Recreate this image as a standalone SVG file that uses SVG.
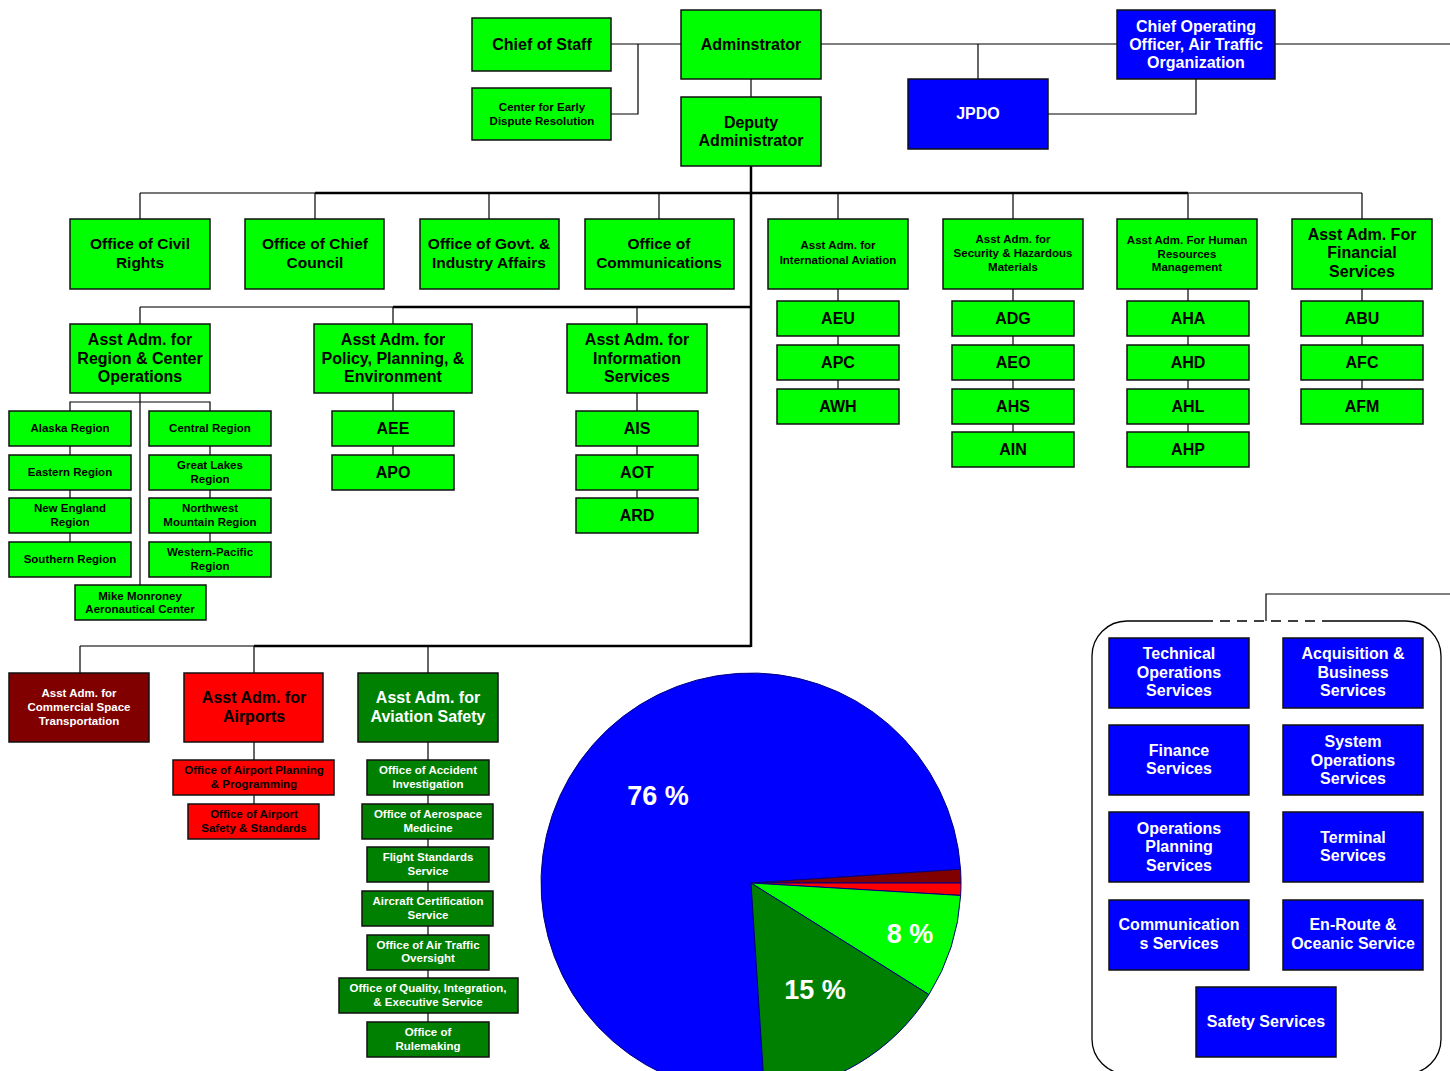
<svg xmlns="http://www.w3.org/2000/svg" width="1450" height="1071" viewBox="0 0 1450 1071">
<style>
.bx{stroke:#111;stroke-width:1.5}
.lg{fill:#00ff00}.dg{fill:#008000}.rd{fill:#ff0000}.mr{fill:#800000}.bl{fill:#0000ff}
text{font-family:"Liberation Sans",Arial,sans-serif;font-weight:bold;text-anchor:middle}
.k{fill:#000}.w{fill:#fff}
.s16{font-size:16px}.s15{font-size:15.5px}.s11{font-size:11.5px}.s27{font-size:27px}
.ln{stroke:#000;stroke-width:1.2;fill:none}
.th{stroke:#000;stroke-width:2.5;fill:none}
.gr{stroke:#777;stroke-width:2;fill:none}
.pie{stroke:#000080;stroke-width:1}
</style>
<rect width="1450" height="1071" fill="#fff"/>
<g id="connectors">
<polyline class="ln" points="611,44 681,44"/>
<polyline class="ln" points="611,114 638,114 638,44"/>
<line class="ln" x1="751" y1="79" x2="751" y2="97"/>
<line class="ln" x1="821" y1="44" x2="1117" y2="44"/>
<line class="ln" x1="1275" y1="44" x2="1450" y2="44"/>
<line class="ln" x1="978" y1="44" x2="978" y2="79"/>
<polyline class="ln" points="1196,79 1196,114 1048,114"/>
<line class="th" x1="751" y1="166" x2="751" y2="193"/>
<line class="gr" x1="140" y1="193" x2="315" y2="193"/>
<line class="th" x1="315" y1="193" x2="1188" y2="193"/>
<line class="gr" x1="1188" y1="193" x2="1362" y2="193"/>
<line class="ln" x1="140" y1="193" x2="140" y2="219"/>
<line class="ln" x1="315" y1="193" x2="315" y2="219"/>
<line class="ln" x1="489" y1="193" x2="489" y2="219"/>
<line class="ln" x1="659" y1="193" x2="659" y2="219"/>
<line class="ln" x1="838" y1="193" x2="838" y2="219"/>
<line class="ln" x1="1013" y1="193" x2="1013" y2="219"/>
<line class="ln" x1="1188" y1="193" x2="1188" y2="219"/>
<line class="ln" x1="1362" y1="193" x2="1362" y2="219"/>
<line class="ln" x1="838" y1="289" x2="838" y2="389"/>
<line class="ln" x1="1013" y1="289" x2="1013" y2="432"/>
<line class="ln" x1="1188" y1="289" x2="1188" y2="432"/>
<line class="ln" x1="1362" y1="289" x2="1362" y2="389"/>
<line class="th" x1="751" y1="193" x2="751" y2="647"/>
<line class="gr" x1="140" y1="307" x2="393" y2="307"/>
<line class="th" x1="393" y1="307" x2="751" y2="307"/>
<line class="ln" x1="140" y1="307" x2="140" y2="324"/>
<line class="ln" x1="393" y1="307" x2="393" y2="455"/>
<line class="ln" x1="637" y1="307" x2="637" y2="498"/>
<line class="ln" x1="140" y1="393" x2="140" y2="585"/>
<polyline class="ln" points="70,411 70,402 210,402 210,411"/>
<line class="ln" x1="70" y1="411" x2="70" y2="542"/>
<line class="ln" x1="210" y1="411" x2="210" y2="542"/>
<line class="gr" x1="80" y1="646" x2="254" y2="646"/>
<line class="th" x1="254" y1="646" x2="751" y2="646"/>
<line class="ln" x1="80" y1="646" x2="80" y2="673"/>
<line class="ln" x1="254" y1="646" x2="254" y2="804"/>
<line class="ln" x1="428" y1="646" x2="428" y2="1022"/>
<polyline class="ln" points="1266,621 1266,594 1450,594"/>
</g>
<g id="pie">
<path class="pie" fill="#0000ff" d="M751,883 L764.55,1092.56 A210,210 0 1 1 960.55,869.27 Z"/>
<path class="pie" fill="#800000" d="M751,883 L960.55,869.27 A210,210 0 0 1 961,883 Z"/>
<path class="pie" fill="#ff0000" d="M751,883 L961,883 A210,210 0 0 1 960.63,895.45 Z"/>
<path class="pie" fill="#00ff00" d="M751,883 L960.63,895.45 A210,210 0 0 1 928.9,994.59 Z"/>
<path class="pie" fill="#008000" d="M751,883 L928.9,994.59 A210,210 0 0 1 764.55,1092.56 Z"/>
<text class="w s27" x="658" y="805">76 %</text>
<text class="w s27" x="910" y="943">8 %</text>
<text class="w s27" x="815" y="999">15 %</text>
</g>
<g id="ato-container">
<path d="M1323,621 H1406 A35,35 0 0 1 1441,656 V1039 A35,35 0 0 1 1406,1074 H1127 A35,35 0 0 1 1092,1039 V656 A35,35 0 0 1 1127,621 H1203" fill="none" stroke="#000" stroke-width="1.3"/>
<line x1="1203" y1="621" x2="1323" y2="621" stroke="#000" stroke-width="1.3" stroke-dasharray="10,7"/>
</g>
<g id="chief-of-staff"><rect class="bx lg" x="472" y="18" width="139" height="53"/><text class="k s16" x="542" y="49.5">Chief of Staff</text></g>
<g id="cedr"><rect class="bx lg" x="472" y="88" width="139" height="52"/><text class="k s11" x="542" y="111">Center for Early</text><text class="k s11" x="542" y="125">Dispute Resolution</text></g>
<g id="administrator"><rect class="bx lg" x="681" y="10" width="140" height="69"/><text class="k s16" x="751" y="49.5">Adminstrator</text></g>
<g id="deputy"><rect class="bx lg" x="681" y="97" width="140" height="69"/><text class="k s16" x="751" y="127.5">Deputy</text><text class="k s16" x="751" y="145.5">Administrator</text></g>
<g id="coo"><rect class="bx bl" x="1117" y="10" width="158" height="69"/><text class="w s16" x="1196" y="31.5">Chief Operating</text><text class="w s16" x="1196" y="49.5">Officer, Air Traffic</text><text class="w s16" x="1196" y="67.5">Organization</text></g>
<g id="jpdo"><rect class="bx bl" x="908" y="79" width="140" height="70"/><text class="w s16" x="978" y="118.5">JPDO</text></g>
<g id="civil-rights"><rect class="bx lg" x="70" y="219" width="140" height="70"/><text class="k s15" x="140" y="248.5">Office of Civil</text><text class="k s15" x="140" y="267.5">Rights</text></g>
<g id="chief-council"><rect class="bx lg" x="245" y="219" width="139" height="70"/><text class="k s15" x="315" y="248.5">Office of Chief</text><text class="k s15" x="315" y="267.5">Council</text></g>
<g id="govt-industry"><rect class="bx lg" x="420" y="219" width="139" height="70"/><text class="k s15" x="489" y="248.5">Office of Govt. &amp;</text><text class="k s15" x="489" y="267.5">Industry Affairs</text></g>
<g id="communications"><rect class="bx lg" x="585" y="219" width="149" height="70"/><text class="k s15" x="659" y="248.5">Office of</text><text class="k s15" x="659" y="267.5">Communications</text></g>
<g id="intl-aviation"><rect class="bx lg" x="768" y="219" width="140" height="70"/><text class="k s11" x="838" y="249">Asst Adm. for</text><text class="k s11" x="838" y="264">International Aviation</text></g>
<g id="security"><rect class="bx lg" x="943" y="219" width="140" height="70"/><text class="k s11" x="1013" y="243">Asst Adm. for</text><text class="k s11" x="1013" y="257">Security &amp; Hazardous</text><text class="k s11" x="1013" y="271">Materials</text></g>
<g id="human-resources"><rect class="bx lg" x="1117" y="219" width="140" height="70"/><text class="k s11" x="1187" y="244">Asst Adm. For Human</text><text class="k s11" x="1187" y="258">Resources</text><text class="k s11" x="1187" y="271">Management</text></g>
<g id="financial"><rect class="bx lg" x="1292" y="219" width="140" height="70"/><text class="k s16" x="1362" y="239.5">Asst Adm. For</text><text class="k s16" x="1362" y="257.5">Financial</text><text class="k s16" x="1362" y="276.5">Services</text></g>
<g id="aeu"><rect class="bx lg" x="777" y="301" width="122" height="35"/><text class="k s16" x="838" y="323.5">AEU</text></g>
<g id="apc"><rect class="bx lg" x="777" y="345" width="122" height="35"/><text class="k s16" x="838" y="367.5">APC</text></g>
<g id="awh"><rect class="bx lg" x="777" y="389" width="122" height="35"/><text class="k s16" x="838" y="411.5">AWH</text></g>
<g id="adg"><rect class="bx lg" x="952" y="301" width="122" height="35"/><text class="k s16" x="1013" y="323.5">ADG</text></g>
<g id="aeo"><rect class="bx lg" x="952" y="345" width="122" height="35"/><text class="k s16" x="1013" y="367.5">AEO</text></g>
<g id="ahs"><rect class="bx lg" x="952" y="389" width="122" height="35"/><text class="k s16" x="1013" y="411.5">AHS</text></g>
<g id="ain"><rect class="bx lg" x="952" y="432" width="122" height="35"/><text class="k s16" x="1013" y="454.5">AIN</text></g>
<g id="aha"><rect class="bx lg" x="1127" y="301" width="122" height="35"/><text class="k s16" x="1188" y="323.5">AHA</text></g>
<g id="ahd"><rect class="bx lg" x="1127" y="345" width="122" height="35"/><text class="k s16" x="1188" y="367.5">AHD</text></g>
<g id="ahl"><rect class="bx lg" x="1127" y="389" width="122" height="35"/><text class="k s16" x="1188" y="411.5">AHL</text></g>
<g id="ahp"><rect class="bx lg" x="1127" y="432" width="122" height="35"/><text class="k s16" x="1188" y="454.5">AHP</text></g>
<g id="abu"><rect class="bx lg" x="1301" y="301" width="122" height="35"/><text class="k s16" x="1362" y="323.5">ABU</text></g>
<g id="afc"><rect class="bx lg" x="1301" y="345" width="122" height="35"/><text class="k s16" x="1362" y="367.5">AFC</text></g>
<g id="afm"><rect class="bx lg" x="1301" y="389" width="122" height="35"/><text class="k s16" x="1362" y="411.5">AFM</text></g>
<g id="region-center"><rect class="bx lg" x="70" y="324" width="140" height="69"/><text class="k s16" x="140" y="344.5">Asst Adm. for</text><text class="k s16" x="140" y="363.5">Region &amp; Center</text><text class="k s16" x="140" y="381.5">Operations</text></g>
<g id="policy"><rect class="bx lg" x="314" y="324" width="158" height="69"/><text class="k s16" x="393" y="344.5">Asst Adm. for</text><text class="k s16" x="393" y="363.5">Policy, Planning, &amp;</text><text class="k s16" x="393" y="381.5">Environment</text></g>
<g id="info-services"><rect class="bx lg" x="567" y="324" width="140" height="69"/><text class="k s16" x="637" y="344.5">Asst Adm. for</text><text class="k s16" x="637" y="363.5">Information</text><text class="k s16" x="637" y="381.5">Services</text></g>
<g id="aee"><rect class="bx lg" x="332" y="411" width="122" height="35"/><text class="k s16" x="393" y="433.5">AEE</text></g>
<g id="apo"><rect class="bx lg" x="332" y="455" width="122" height="35"/><text class="k s16" x="393" y="477.5">APO</text></g>
<g id="ais"><rect class="bx lg" x="576" y="411" width="122" height="35"/><text class="k s16" x="637" y="433.5">AIS</text></g>
<g id="aot"><rect class="bx lg" x="576" y="455" width="122" height="35"/><text class="k s16" x="637" y="477.5">AOT</text></g>
<g id="ard"><rect class="bx lg" x="576" y="498" width="122" height="35"/><text class="k s16" x="637" y="520.5">ARD</text></g>
<g id="alaska"><rect class="bx lg" x="9" y="411" width="122" height="35"/><text class="k s11" x="70" y="432">Alaska Region</text></g>
<g id="eastern"><rect class="bx lg" x="9" y="455" width="122" height="35"/><text class="k s11" x="70" y="476">Eastern Region</text></g>
<g id="new-england"><rect class="bx lg" x="9" y="498" width="122" height="35"/><text class="k s11" x="70" y="512">New England</text><text class="k s11" x="70" y="526">Region</text></g>
<g id="southern"><rect class="bx lg" x="9" y="542" width="122" height="35"/><text class="k s11" x="70" y="563">Southern Region</text></g>
<g id="central"><rect class="bx lg" x="149" y="411" width="122" height="35"/><text class="k s11" x="210" y="432">Central Region</text></g>
<g id="great-lakes"><rect class="bx lg" x="149" y="455" width="122" height="35"/><text class="k s11" x="210" y="469">Great Lakes</text><text class="k s11" x="210" y="483">Region</text></g>
<g id="northwest"><rect class="bx lg" x="149" y="498" width="122" height="35"/><text class="k s11" x="210" y="512">Northwest</text><text class="k s11" x="210" y="526">Mountain Region</text></g>
<g id="western-pacific"><rect class="bx lg" x="149" y="542" width="122" height="35"/><text class="k s11" x="210" y="556">Western-Pacific</text><text class="k s11" x="210" y="570">Region</text></g>
<g id="monroney"><rect class="bx lg" x="75" y="585" width="131" height="35"/><text class="k s11" x="140" y="600">Mike Monroney</text><text class="k s11" x="140" y="613">Aeronautical Center</text></g>
<g id="commercial-space"><rect class="bx mr" x="9" y="673" width="140" height="69"/><text class="w s11" x="79" y="697">Asst Adm. for</text><text class="w s11" x="79" y="711">Commercial Space</text><text class="w s11" x="79" y="725">Transportation</text></g>
<g id="airports"><rect class="bx rd" x="184" y="673" width="139" height="69"/><text class="k s16" x="254" y="702.5">Asst Adm. for</text><text class="k s16" x="254" y="721.5">Airports</text></g>
<g id="aviation-safety"><rect class="bx dg" x="358" y="673" width="140" height="69"/><text class="w s16" x="428" y="702.5">Asst Adm. for</text><text class="w s16" x="428" y="721.5">Aviation Safety</text></g>
<g id="airport-planning"><rect class="bx rd" x="173" y="760" width="161" height="35"/><text class="k s11" x="254" y="774">Office of Airport Planning</text><text class="k s11" x="254" y="788">&amp; Programming</text></g>
<g id="airport-safety"><rect class="bx rd" x="188" y="804" width="131" height="35"/><text class="k s11" x="254" y="818">Office of Airport</text><text class="k s11" x="254" y="832">Safety &amp; Standards</text></g>
<g id="accident"><rect class="bx dg" x="367" y="760" width="122" height="35"/><text class="w s11" x="428" y="774">Office of Accident</text><text class="w s11" x="428" y="788">Investigation</text></g>
<g id="aerospace-medicine"><rect class="bx dg" x="362" y="804" width="131" height="35"/><text class="w s11" x="428" y="818">Office of Aerospace</text><text class="w s11" x="428" y="832">Medicine</text></g>
<g id="flight-standards"><rect class="bx dg" x="367" y="847" width="122" height="35"/><text class="w s11" x="428" y="861">Flight Standards</text><text class="w s11" x="428" y="875">Service</text></g>
<g id="aircraft-cert"><rect class="bx dg" x="362" y="891" width="131" height="35"/><text class="w s11" x="428" y="905">Aircraft Certification</text><text class="w s11" x="428" y="919">Service</text></g>
<g id="ato-oversight"><rect class="bx dg" x="367" y="935" width="122" height="35"/><text class="w s11" x="428" y="949">Office of Air Traffic</text><text class="w s11" x="428" y="962">Oversight</text></g>
<g id="quality"><rect class="bx dg" x="339" y="978" width="179" height="35"/><text class="w s11" x="428" y="992">Office of Quality, Integration,</text><text class="w s11" x="428" y="1006">&amp; Executive Service</text></g>
<g id="rulemaking"><rect class="bx dg" x="367" y="1022" width="122" height="35"/><text class="w s11" x="428" y="1036">Office of</text><text class="w s11" x="428" y="1050">Rulemaking</text></g>
<g id="technical-ops"><rect class="bx bl" x="1109" y="638" width="140" height="70"/><text class="w s16" x="1179" y="658.5">Technical</text><text class="w s16" x="1179" y="677.5">Operations</text><text class="w s16" x="1179" y="695.5">Services</text></g>
<g id="acquisition"><rect class="bx bl" x="1283" y="638" width="140" height="70"/><text class="w s16" x="1353" y="658.5">Acquisition &amp;</text><text class="w s16" x="1353" y="677.5">Business</text><text class="w s16" x="1353" y="695.5">Services</text></g>
<g id="finance"><rect class="bx bl" x="1109" y="725" width="140" height="70"/><text class="w s16" x="1179" y="755.5">Finance</text><text class="w s16" x="1179" y="773.5">Services</text></g>
<g id="system-ops"><rect class="bx bl" x="1283" y="725" width="140" height="70"/><text class="w s16" x="1353" y="746.5">System</text><text class="w s16" x="1353" y="765.5">Operations</text><text class="w s16" x="1353" y="783.5">Services</text></g>
<g id="ops-planning"><rect class="bx bl" x="1109" y="812" width="140" height="70"/><text class="w s16" x="1179" y="833.5">Operations</text><text class="w s16" x="1179" y="851.5">Planning</text><text class="w s16" x="1179" y="870.5">Services</text></g>
<g id="terminal"><rect class="bx bl" x="1283" y="812" width="140" height="70"/><text class="w s16" x="1353" y="842.5">Terminal</text><text class="w s16" x="1353" y="860.5">Services</text></g>
<g id="communications-services"><rect class="bx bl" x="1109" y="900" width="140" height="70"/><text class="w s16" x="1179" y="929.5">Communication</text><text class="w s16" x="1179" y="948.5">s Services</text></g>
<g id="enroute"><rect class="bx bl" x="1283" y="900" width="140" height="70"/><text class="w s16" x="1353" y="929.5">En-Route &amp;</text><text class="w s16" x="1353" y="948.5">Oceanic Service</text></g>
<g id="safety-services"><rect class="bx bl" x="1196" y="987" width="140" height="70"/><text class="w s16" x="1266" y="1026.5">Safety Services</text></g>
</svg>
